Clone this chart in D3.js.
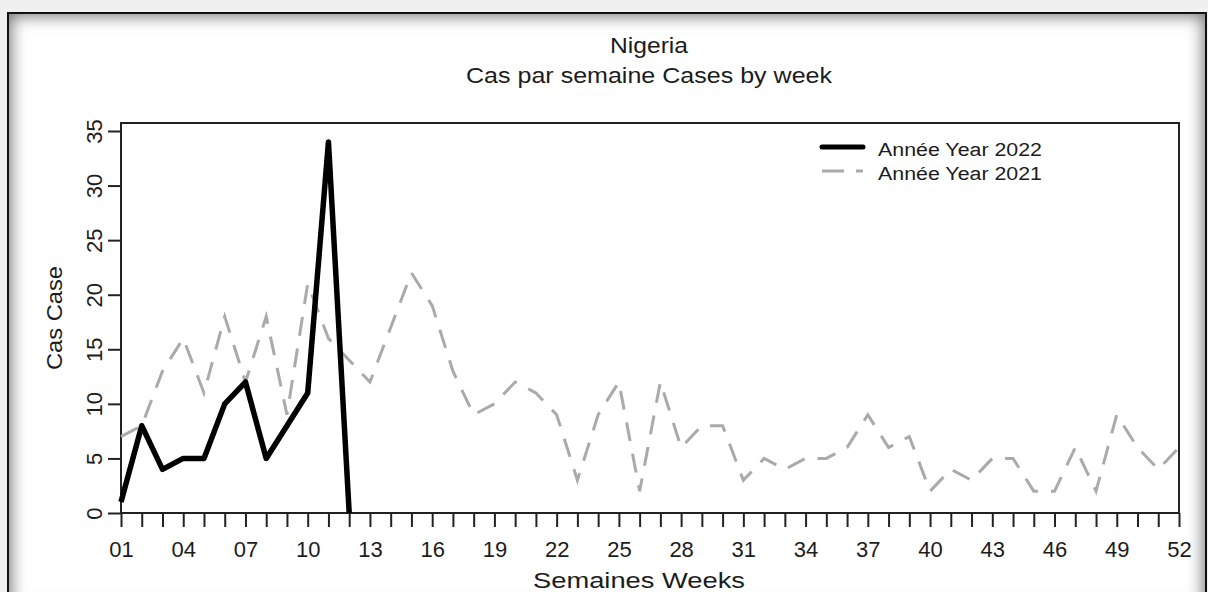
<!DOCTYPE html>
<html>
<head>
<meta charset="utf-8">
<script src="https://d3js.org/d3.v7.min.js"></script>
<style>
    body { margin: 0; background: #f0f0f0; width: 1208px; height: 592px; overflow: hidden; position: relative; }
    #panel {
        position: absolute; left: 7px; top: 12px; width: 1196px; height: 596px;
        background: #fff; border: 2px solid #111;
        box-shadow: inset 0 0 16px 2px rgba(0, 0, 0, 0.55);
    }
    #chart { position: absolute; left: 0; top: 0; }
    text { font-family: "Liberation Sans", Arial, sans-serif; fill: #1c1c1c; }
</style>
</head>
<body>
<div id="panel"></div>
<div id="chart"></div>
<script>
// weeks and case counts
const weeks = d3.range(1, 53);
const cases2022 = [1, 8, 4, 5, 5, 10, 12, 5, 8, 11, 34, 0];
const cases2021 = [7, 8, 13, 16, 11, 18, 12, 18, 9, 21, 16, 14, 12, 17, 22, 19, 13, 9, 10, 12,
    11, 9, 3, 9, 12, 2, 12, 6, 8, 8, 3, 5, 4, 5, 5, 6, 9, 6, 7, 2,
    4, 3, 5, 5, 2, 2, 6, 2, 9, 6, 4, 6];
const yTicks = [0, 5, 10, 15, 20, 25, 30, 35];
const xLabelWeeks = d3.range(1, 53, 3);
const seriesNames = ['Année Year 2022', 'Année Year 2021'];

const box = { left: 121, right: 1179, top: 123, bottom: 513 };

const svg = d3.select('#chart').append('svg')
    .attr('width', 1208)
    .attr('height', 592);

const x = d3.scaleLinear().domain([1, 52]).range([box.left, box.right]);
const y = d3.scaleLinear().domain([0, 35]).range([box.bottom, 131]);

// stretched text, the source font is wider than Arial
function label(sel, width) {
    return sel.attr('textLength', width).attr('lengthAdjust', 'spacingAndGlyphs');
}

// titles
label(svg.append('text')
    .attr('x', 649).attr('y', 53)
    .attr('text-anchor', 'middle')
    .attr('font-size', 22), 78)
    .text('Nigeria');
label(svg.append('text')
    .attr('x', 649).attr('y', 83)
    .attr('text-anchor', 'middle')
    .attr('font-size', 22), 366)
    .text('Cas par semaine Cases by week');

// y axis, labels turned on their side
const yAxis = svg.append('g')
    .attr('transform', `translate(${box.left},0)`)
    .call(d3.axisLeft(y).tickValues(yTicks).tickSize(13).tickSizeOuter(0));
yAxis.select('.domain').remove();
yAxis.selectAll('line').attr('stroke', '#222').attr('stroke-width', 2);
yAxis.selectAll('text')
    .attr('x', null).attr('dy', null)
    .attr('transform', 'translate(-19,0) rotate(-90)')
    .attr('text-anchor', 'middle')
    .attr('font-size', 22)
    .attr('font-family', null)
    .attr('fill', null);

// x axis, a tick each week and a label every third week
const xAxis = svg.append('g')
    .attr('transform', `translate(0,${box.bottom})`)
    .call(d3.axisBottom(x).tickValues(weeks).tickSize(14).tickSizeOuter(0)
        .tickFormat(d => xLabelWeeks.includes(d) ? d3.format('02d')(d) : ''));
xAxis.select('.domain').remove();
xAxis.selectAll('line').attr('stroke', '#222').attr('stroke-width', 2);
xAxis.selectAll('text')
    .attr('y', 44).attr('dy', null)
    .attr('font-size', 22)
    .attr('font-family', null)
    .attr('fill', null);

// plot frame
svg.append('rect')
    .attr('x', box.left).attr('y', box.top)
    .attr('width', box.right - box.left)
    .attr('height', box.bottom - box.top)
    .attr('fill', 'none')
    .attr('stroke', '#222')
    .attr('stroke-width', 2);

label(svg.append('text')
    .attr('x', 639).attr('y', 588)
    .attr('text-anchor', 'middle')
    .attr('font-size', 22), 212)
    .text('Semaines Weeks');
label(svg.append('text')
    .attr('transform', 'translate(62,318) rotate(-90)')
    .attr('text-anchor', 'middle')
    .attr('font-size', 22), 104)
    .text('Cas Case');

const line = d3.line()
    .x((d, i) => x(weeks[i]))
    .y(d => y(d));

svg.append('path')
    .datum(cases2021)
    .attr('d', line)
    .attr('fill', 'none')
    .attr('stroke', '#aaaaaa')
    .attr('stroke-width', 3)
    .attr('stroke-dasharray', '19,13');

svg.append('path')
    .datum(cases2022)
    .attr('d', line)
    .attr('fill', 'none')
    .attr('stroke', '#000')
    .attr('stroke-width', 5.5)
    .attr('stroke-linejoin', 'round');

// legend
const legend = svg.append('g').attr('transform', 'translate(822,147)');
legend.append('line')
    .attr('x1', 0).attr('x2', 41).attr('y1', 0).attr('y2', 0)
    .attr('stroke', '#000').attr('stroke-width', 5).attr('stroke-linecap', 'round');
legend.append('line')
    .attr('x1', 0).attr('x2', 41).attr('y1', 24).attr('y2', 24)
    .attr('stroke', '#aaaaaa').attr('stroke-width', 3).attr('stroke-dasharray', '22,12');
legend.selectAll('text.item')
    .data(seriesNames)
    .join('text')
    .attr('class', 'item')
    .attr('x', 56)
    .attr('y', (d, i) => 8.5 + i * 24.5)
    .attr('font-size', 18)
    .attr('textLength', 164)
    .attr('lengthAdjust', 'spacingAndGlyphs')
    .text(d => d);
</script>
</body>
</html>
